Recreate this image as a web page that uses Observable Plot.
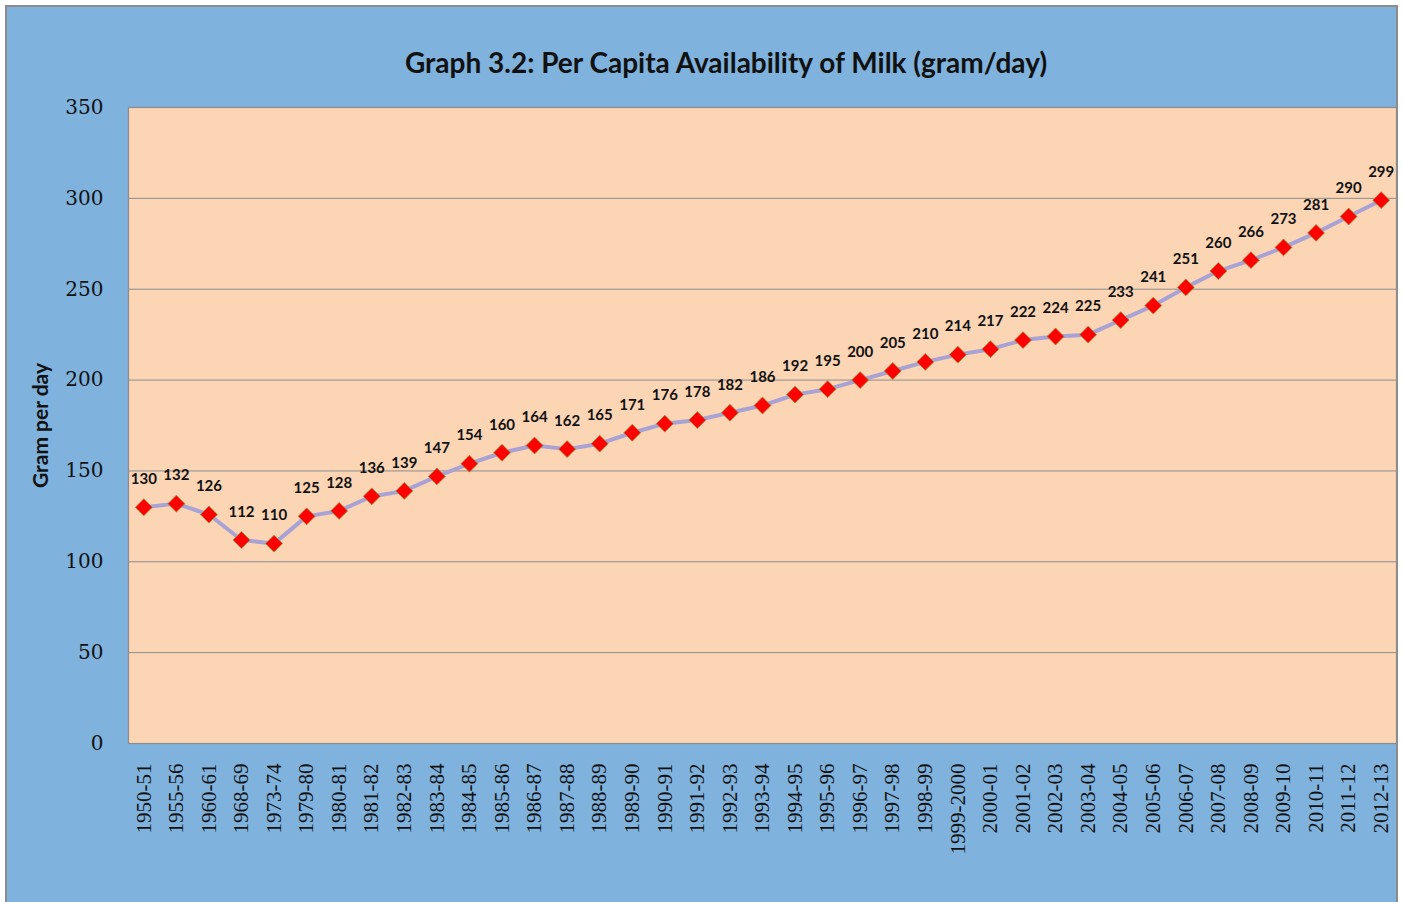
<!DOCTYPE html>
<html>
<head>
<meta charset="utf-8">
<script src="https://cdn.jsdelivr.net/npm/d3@7"></script>
<script src="https://cdn.jsdelivr.net/npm/@observablehq/plot@0.6"></script>
<style>
  html, body { margin: 0; padding: 0; background: #ffffff; }
  #frame {
    position: absolute; left: 5px; top: 5px; width: 1393px; height: 897px;
    box-sizing: border-box; background: #7fb2dc;
    border-left: 2px solid #8c8c8c; border-top: 2px solid #8c8c8c; border-right: 2px solid #8c8c8c;
  }
  #title {
    height: 85px; box-sizing: border-box; padding-top: 40px;
    text-align: center; font-family: Lato, sans-serif; font-weight: 700;
    font-size: 28px; line-height: 30px; color: #111; padding-left: 49px;
  }
  #chart svg { display: block; }
</style>
</head>
<body>
<div id="frame">
  <div id="title">Graph 3.2: Per Capita Availability of Milk (gram/day)</div>
  <div id="chart"></div>
</div>
<script>
const years = ["1950-51","1955-56","1960-61","1968-69","1973-74","1979-80","1980-81","1981-82","1982-83","1983-84","1984-85","1985-86","1986-87","1987-88","1988-89","1989-90","1990-91","1991-92","1992-93","1993-94","1994-95","1995-96","1996-97","1997-98","1998-99","1999-2000","2000-01","2001-02","2002-03","2003-04","2004-05","2005-06","2006-07","2007-08","2008-09","2009-10","2010-11","2011-12","2012-13"];
const milk = [130,132,126,112,110,125,128,136,139,147,154,160,164,162,165,171,176,178,182,186,192,195,200,205,210,214,217,222,224,225,233,241,251,260,266,273,281,290,299];
const yTicks = [0,50,100,150,200,250,300,350];

const data = years.map((y, i) => ({year: y, value: milk[i]}));

const chart = Plot.plot({
  width: 1389,
  height: 810,
  marginTop: 15,
  marginBottom: 159,
  marginLeft: 121,
  marginRight: 0,
  style: {background: "transparent", overflow: "visible"},
  x: {type: "point", domain: years, padding: 0.47, round: false},
  y: {domain: [0, 350]},
  marks: [
    Plot.frame({fill: "#fcd5b5", stroke: "none"}),
    Plot.gridY(yTicks, {stroke: "#8c8c8c", strokeOpacity: 1, strokeWidth: 1}),
    Plot.frame({stroke: "#8c8c8c", strokeWidth: 1.2}),
    Plot.axisY(yTicks, {
      tickSize: 0, tickPadding: 25,
      fontFamily: "DejaVu Serif", fontSize: 20, fill: "#111",
      label: "Gram per day", labelAnchor: "center", labelArrow: "none", labelOffset: 95
    }),
    Plot.axisX({
      tickSize: 0, tickPadding: 20, tickRotate: -90,
      fontFamily: "Liberation Serif", fontSize: 21, fill: "#111", label: null
    }),
    Plot.line(data, {x: "year", y: "value", stroke: "#a9a2d4", strokeWidth: 4}),
    Plot.dot(data, {x: "year", y: "value", symbol: "diamond2", r: 7.6, fill: "#ff0000", stroke: "#9a8a3a", strokeWidth: 0.8}),
    Plot.text(data, {x: "year", y: "value", text: d => String(d.value), dy: -28,
      fontFamily: "Lato", fontWeight: 700, fontSize: 15, fill: "#111", letterSpacing: "0.6px"})
  ]
});
document.getElementById("chart").appendChild(chart);
// style the y-axis label
const lbl = chart.querySelectorAll("[aria-label='y-axis label'] text");
lbl.forEach(t => { t.setAttribute("font-family", "Lato"); t.setAttribute("font-weight", "700"); t.setAttribute("font-size", "21"); t.style.fontFamily = "Lato"; t.style.fontWeight = "700"; t.style.fontSize = "21px"; });
</script>
</body>
</html>
